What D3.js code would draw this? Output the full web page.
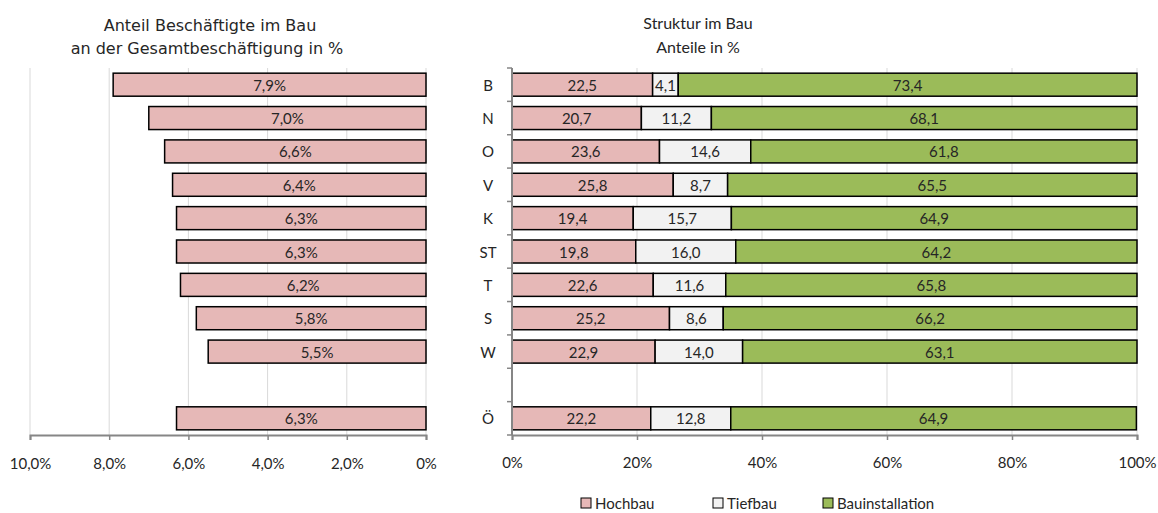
<html>
<head>
<meta http-equiv="Content-Type" content="text/html; charset=UTF-8" />
<title>Bau</title>
<script src="https://d3js.org/d3.v7.min.js"></script>
<style>
  body { margin: 0; background: #fff; }
  text { font-family: "Lato", "DejaVu Sans", sans-serif; fill: #262626; }
  .wide { font-family: "DejaVu Sans", sans-serif; }
</style>
</head>
<body>
<svg id="chart" width="1158" height="513"></svg>
<script>
// categories (the blank slot is a gap row)
var categories = ["B", "N", "O", "V", "K", "ST", "T", "S", "W", "gap", "Ö"];
var anteil     = [7.9, 7.0, 6.6, 6.4, 6.3, 6.3, 6.2, 5.8, 5.5, null, 6.3];
var hochbau    = [22.5, 20.7, 23.6, 25.8, 19.4, 19.8, 22.6, 25.2, 22.9, null, 22.2];
var tiefbau    = [4.1, 11.2, 14.6, 8.7, 15.7, 16.0, 11.6, 8.6, 14.0, null, 12.8];
var bauinst    = [73.4, 68.1, 61.8, 65.5, 64.9, 64.2, 65.8, 66.2, 63.1, null, 64.9];
var seriesNames = ["Hochbau", "Tiefbau", "Bauinstallation"];
var colors = ["#e6b8b7", "#f2f2f2", "#9bbb59"];
var leftTicks = [10, 8, 6, 4, 2, 0];
var rightTicks = [0, 20, 40, 60, 80, 100];

var svg = d3.select("#chart");
var comma = function(v, d) { return v.toFixed(d).replace(".", ","); };
var plotTop = 68, plotBottom = 435;

var y = d3.scaleBand().domain(categories).range([plotTop, plotBottom]).paddingInner(0.31).paddingOuter(0.155);

// ---------- left chart ----------
var xl = d3.scaleLinear().domain([10, 0]).range([30, 426]);

svg.append("text").attr("class", "wide").attr("x", 210).attr("y", 31).attr("text-anchor", "middle")
  .style("font-size", "16px").text("Anteil Beschäftigte im Bau");
svg.append("text").attr("class", "wide").attr("x", 207).attr("y", 54).attr("text-anchor", "middle")
  .style("font-size", "16px").text("an der Gesamtbeschäftigung in %");

svg.append("g").selectAll("line").data(leftTicks).enter().append("line")
  .attr("x1", d => xl(d)).attr("x2", d => xl(d))
  .attr("y1", plotTop).attr("y2", plotBottom)
  .attr("stroke", "#d9d9d9").attr("stroke-width", 1);

var lrows = categories.map((c, i) => ({ c: c, v: anteil[i] })).filter(d => d.v != null);
svg.append("g").selectAll("rect").data(lrows).enter().append("rect")
  .attr("x", d => xl(d.v)).attr("width", d => xl(0) - xl(d.v))
  .attr("y", d => y(d.c)).attr("height", y.bandwidth())
  .attr("fill", colors[0]).attr("stroke", "#000").attr("stroke-width", 1.5);
svg.append("g").selectAll("text").data(lrows).enter().append("text")
  .attr("x", d => (xl(d.v) + xl(0)) / 2).attr("y", d => y(d.c) + y.bandwidth() / 2 + 6)
  .attr("text-anchor", "middle").style("font-size", "15px")
  .text(d => comma(d.v, 1) + "%");

var axL = svg.append("g").attr("transform", "translate(0," + plotBottom + ")")
  .call(d3.axisBottom(xl).tickValues(leftTicks).tickSize(5).tickPadding(18)
    .tickFormat(d => d === 0 ? "0%" : comma(d, 1) + "%"));
axL.select(".domain").attr("stroke", "#868686").attr("stroke-width", 2);
axL.selectAll(".tick line").attr("stroke", "#868686").attr("stroke-width", 1.5);
axL.selectAll(".tick text").style("font-size", "15px").attr("fill", "#262626");

// ---------- right chart ----------
var xr = d3.scaleLinear().domain([0, 100]).range([512, 1137]);

svg.append("text").attr("x", 698).attr("y", 29).attr("text-anchor", "middle")
  .style("font-size", "16px").text("Struktur im Bau");
svg.append("text").attr("x", 698).attr("y", 53).attr("text-anchor", "middle")
  .style("font-size", "16px").text("Anteile in %");

svg.append("g").selectAll("line").data(rightTicks.slice(1)).enter().append("line")
  .attr("x1", d => xr(d)).attr("x2", d => xr(d))
  .attr("y1", plotTop).attr("y2", plotBottom)
  .attr("stroke", "#d9d9d9").attr("stroke-width", 1);

var table = categories.map((c, i) => ({ c: c, Hochbau: hochbau[i], Tiefbau: tiefbau[i], Bauinstallation: bauinst[i] }))
  .filter(d => d.Hochbau != null);
var stack = d3.stack().keys(seriesNames)(table);

stack.forEach(function(layer, k) {
  var g = svg.append("g");
  g.selectAll("rect").data(layer).enter().append("rect")
    .attr("x", d => xr(d[0])).attr("width", d => xr(d[1]) - xr(d[0]))
    .attr("y", d => y(d.data.c)).attr("height", y.bandwidth())
    .attr("fill", colors[k]).attr("stroke", "#000").attr("stroke-width", 1.5);
  g.selectAll("text").data(layer).enter().append("text")
    .attr("x", d => (xr(d[0]) + xr(d[1])) / 2).attr("y", d => y(d.data.c) + y.bandwidth() / 2 + 6)
    .attr("text-anchor", "middle").style("font-size", "15px")
    .text(d => comma(d[1] - d[0], 1));
});

var axB = svg.append("g").attr("transform", "translate(0," + plotBottom + ")")
  .call(d3.axisBottom(xr).tickValues(rightTicks).tickSize(5).tickPadding(17)
    .tickFormat(d => d + "%"));
axB.select(".domain").attr("stroke", "#868686").attr("stroke-width", 2);
axB.selectAll(".tick line").attr("stroke", "#868686").attr("stroke-width", 1.5);
axB.selectAll(".tick text").style("font-size", "15px").attr("fill", "#262626");

// y axis with boundary ticks
var yAxG = svg.append("g");
yAxG.append("line").attr("x1", xr(0)).attr("x2", xr(0)).attr("y1", plotTop).attr("y2", plotBottom)
  .attr("stroke", "#868686").attr("stroke-width", 2);
var bounds = d3.range(categories.length + 1).map(i => plotTop + i * (plotBottom - plotTop) / categories.length);
yAxG.selectAll("line.t").data(bounds).enter().append("line").attr("class", "t")
  .attr("x1", xr(0) - 5).attr("x2", xr(0)).attr("y1", d => d).attr("y2", d => d)
  .attr("stroke", "#868686").attr("stroke-width", 1.5);
yAxG.selectAll("text").data(categories.filter(c => c !== "gap")).enter().append("text")
  .attr("x", 488).attr("y", d => y(d) + y.bandwidth() / 2 + 6)
  .attr("text-anchor", "middle").style("font-size", "15px").text(d => d);

// legend
var legX = [581, 713, 823];
var leg = svg.append("g").selectAll("g").data(seriesNames).enter().append("g")
  .attr("transform", (d, i) => "translate(" + legX[i] + ",498)");
leg.append("rect").attr("width", 10).attr("height", 10)
  .attr("fill", (d, i) => colors[i]).attr("stroke", "#000").attr("stroke-width", 1);
leg.append("text").attr("x", 14).attr("y", 10.5).style("font-size", "15px").text(d => d);
</script>
</body>
</html>
